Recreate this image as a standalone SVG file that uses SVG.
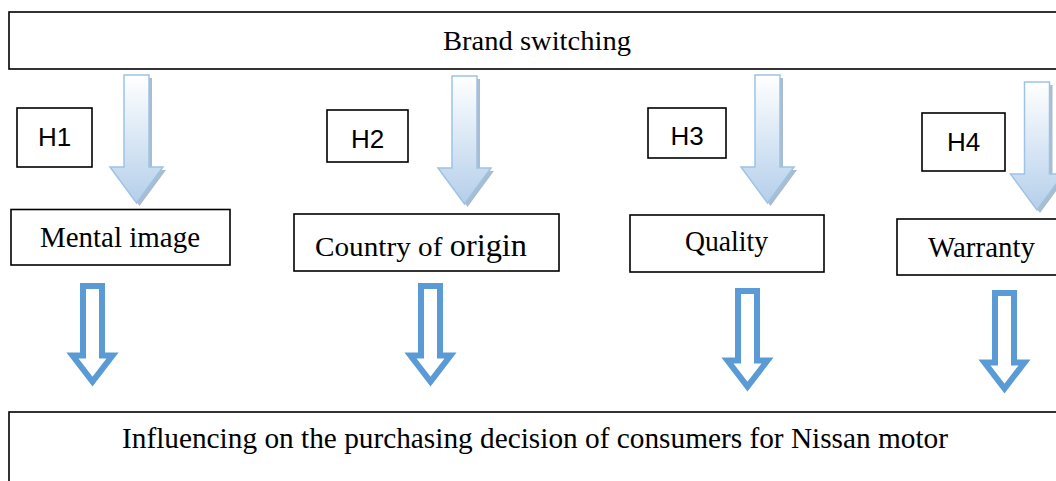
<svg xmlns="http://www.w3.org/2000/svg" xmlns:xlink="http://www.w3.org/1999/xlink" width="1056" height="481" viewBox="0 0 1056 481">
<style>
.box{fill:#fff;stroke:#000;stroke-width:1.6}
.serif{font-family:"Liberation Serif","Times New Roman",serif;fill:#000}
.sans{font-family:"Liberation Sans",Arial,sans-serif;fill:#000;font-size:26px;text-anchor:middle}
.ga{fill:url(#grad);stroke:#9DC3E6;stroke-width:1.5}
.gs{fill:#8FA6BD;opacity:0.75}
.ha{fill:#fff;stroke:#5B9BD5;stroke-width:6;stroke-linejoin:miter}
</style>
<defs>
<linearGradient id="grad" x1="0" y1="0" x2="0" y2="1">
<stop offset="0" stop-color="#FFFFFF"/>
<stop offset="1" stop-color="#B4CFEA"/>
</linearGradient>
<path id="garrow" d="M-12.5,0 H12.5 V92 H26.5 L0,128 L-26.5,92 H-12.5 Z"/>
<path id="harrow" d="M-9.5,3 H9.5 V72.5 H20 L0,98.5 L-20,72.5 H-9.5 Z"/>
</defs>
<rect width="1056" height="481" fill="#fff"/>

<g id="brand-switching">
<rect class="box" x="9" y="12" width="1060" height="57"/>
<text class="serif" x="537" y="50" font-size="28" text-anchor="middle" textLength="188" lengthAdjust="spacingAndGlyphs">Brand switching</text>
</g>

<g id="connectors">
<g transform="translate(139.5,78)"><use xlink:href="#garrow" class="gs"/></g>
<g transform="translate(136.5,75)"><use xlink:href="#garrow" class="ga"/></g>
<g transform="translate(467.5,79)"><use xlink:href="#garrow" class="gs"/></g>
<g transform="translate(464.5,76)"><use xlink:href="#garrow" class="ga"/></g>
<g transform="translate(770.5,78)"><use xlink:href="#garrow" class="gs"/></g>
<g transform="translate(767.5,75)"><use xlink:href="#garrow" class="ga"/></g>
<g transform="translate(1040,85)"><use xlink:href="#garrow" class="gs"/></g>
<g transform="translate(1037,82)"><use xlink:href="#garrow" class="ga"/></g>

<g transform="translate(92.5,283)"><use xlink:href="#harrow" class="ha"/></g>
<g transform="translate(430.5,283)"><use xlink:href="#harrow" class="ha"/></g>
<g transform="translate(747.5,288)"><use xlink:href="#harrow" class="ha"/></g>
<g transform="translate(1004.5,290)"><use xlink:href="#harrow" class="ha"/></g>
</g>

<g id="h1">
<rect class="box" x="17" y="108" width="75" height="59"/>
<text class="sans" x="54.5" y="146">H1</text>
</g>
<g id="h2">
<rect class="box" x="327" y="110" width="81" height="52"/>
<text class="sans" x="367.5" y="148">H2</text>
</g>
<g id="h3">
<rect class="box" x="648" y="108" width="78" height="50"/>
<text class="sans" x="687" y="145">H3</text>
</g>
<g id="h4">
<rect class="box" x="922" y="113" width="83" height="58"/>
<text class="sans" x="963.5" y="151">H4</text>
</g>

<g id="mental-image">
<rect class="box" x="11" y="209.5" width="219" height="55.5"/>
<text class="serif" x="120" y="247" font-size="29" text-anchor="middle" textLength="160" lengthAdjust="spacingAndGlyphs">Mental image</text>
</g>
<g id="country-of-origin">
<rect class="box" x="294" y="214" width="265" height="57"/>
<text class="serif" x="315" y="256" font-size="28" textLength="212" lengthAdjust="spacingAndGlyphs">Country of <tspan font-size="31">origin</tspan></text>
</g>
<g id="quality">
<rect class="box" x="630" y="215" width="194" height="57"/>
<text class="serif" x="726.5" y="251" font-size="29" text-anchor="middle" textLength="83" lengthAdjust="spacingAndGlyphs">Quality</text>
</g>
<g id="warranty">
<rect class="box" x="897" y="219" width="170" height="56"/>
<text class="serif" x="981.5" y="257" font-size="29" text-anchor="middle" textLength="107" lengthAdjust="spacingAndGlyphs">Warranty</text>
</g>

<g id="influencing">
<rect class="box" x="9" y="412" width="1060" height="90"/>
<text class="serif" x="122" y="448" font-size="28.5" textLength="826" lengthAdjust="spacingAndGlyphs">Influencing on the purchasing decision of consumers for Nissan motor</text>
</g>
</svg>
